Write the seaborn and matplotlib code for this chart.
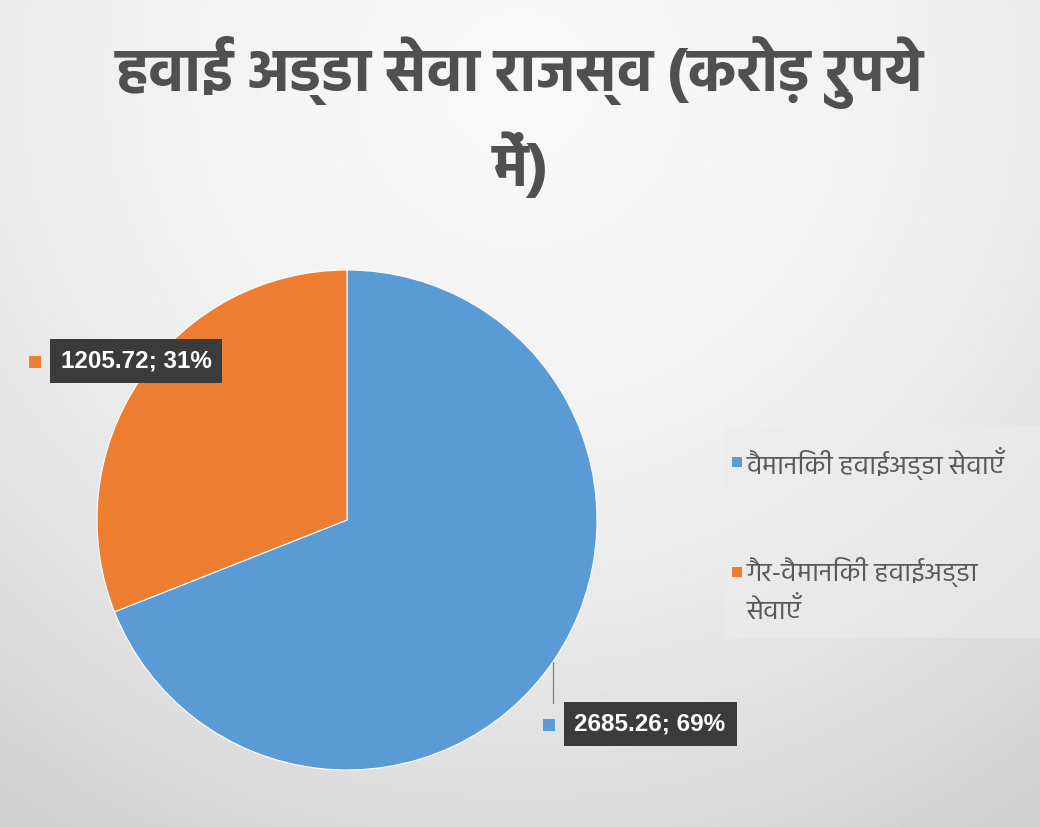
import numpy as np
import matplotlib
matplotlib.use("Agg")
import matplotlib.pyplot as plt
import seaborn as sns

# data
categories = ["वैमानिकी हवाईअड्डा सेवाएँ", "गैर-वैमानिकी हवाईअड्डा\nसेवाएँ"]
values = [2685.26, 1205.72]
colors = ["#5B9BD5", "#ED7D31"]
title = "हवाई अड्डा सेवा राजस्व (करोड़ रुपये\nमें)"

sns.set_theme(style="white")
plt.rcParams["font.family"] = ["Hind", "DejaVu Sans"]

W, H = 1040, 827
fig = plt.figure(figsize=(W / 100, H / 100), dpi=100)

# soft gray background gradient
bg = fig.add_axes([0, 0, 1, 1], zorder=-10)
yy, xx = np.mgrid[0:1:300j, 0:1:380j]
r2 = ((xx - 0.5) / 0.85) ** 2 + ((yy - 0.1) / 1.05) ** 2
shade = 0.97 - 0.15 * np.clip(r2, 0, 1)
bg.imshow(shade, cmap="gray", vmin=0, vmax=1, aspect="auto", extent=[0, 1, 1, 0],
          interpolation="bilinear")
bg.set_axis_off()

# pie
cx, cy, rad = 347, 520, 250
ax = fig.add_axes([(cx - rad) / W, (H - cy - rad) / H, 2 * rad / W, 2 * rad / H])
wedges, _ = ax.pie(values, colors=colors, startangle=90, counterclock=False,
                   wedgeprops=dict(edgecolor="white", linewidth=0.8))
ax.set_xlim(-1, 1)
ax.set_ylim(-1, 1)

total = sum(values)
lab_font = ["Liberation Sans Narrow", "Liberation Sans", "DejaVu Sans"]
# data labels (placed like the original callouts)
label_pos = [(650, 724), (136, 361)]
for i, (v, c) in enumerate(zip(values, colors)):
    txt = f"{v:.2f}; {round(100 * v / total)}%"
    px, py = label_pos[i]
    fig.text(px / W, 1 - py / H, txt, ha="center", va="center", color="white",
             fontsize=17.5, fontweight="bold", family=lab_font,
             bbox=dict(boxstyle="square,pad=0.45", fc="#3b3b3b", ec="none"))
    fig.patches.append(plt.Rectangle(((px - 101 - 6) / W, 1 - (py + 7) / H), 12 / W, 12 / H,
                                     transform=fig.transFigure, fc=c, ec="none",
                                     figure=fig))

# leader line for the blue label
fig.add_artist(plt.Line2D([553 / W, 553 / W], [1 - 662 / H, 1 - 703 / H],
                          transform=fig.transFigure, color="#7f7f7f", lw=0.9))

# legend (drawn by hand so the marker sits on the first text line)
fig.patches.append(plt.Rectangle((725 / W, 1 - 638 / H), 315 / W, 212 / H,
                                 transform=fig.transFigure, fc="#ececec", ec="none",
                                 alpha=0.6, figure=fig))
leg_y = [462, 572]
for lab, c, y in zip(categories, colors, leg_y):
    fig.patches.append(plt.Rectangle((732 / W, 1 - (y + 5) / H), 10 / W, 10 / H,
                                     transform=fig.transFigure, fc=c, ec="none",
                                     figure=fig))
    fig.text(747 / W, 1 - (y - 15) / H, lab, ha="left", va="top", fontsize=19.5,
             color="#595959", linespacing=1.45)

fig.text(0.5, 1 - 117 / H, title, ha="center", va="center", fontsize=43,
         fontweight="bold", color="#505050", linespacing=1.42)

fig.savefig("out.png", dpi=100)
